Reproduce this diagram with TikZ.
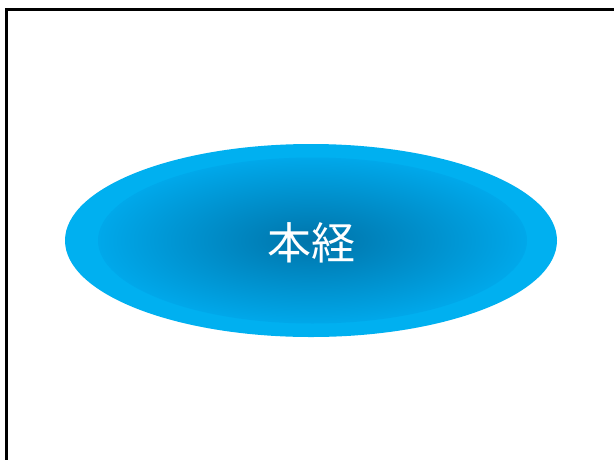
\documentclass[tikz,border=0pt]{standalone}
\usepackage{fontspec}
\newfontfamily\cjkfont{Noto Sans CJK JP}
\definecolor{ringblue}{RGB}{0,176,240}
\definecolor{coreblue}{RGB}{0,116,170}
\definecolor{edgeblue}{RGB}{0,168,234}
\tikzset{
  frameline/.style={line width=3pt, draw=black},
  outerell/.style={ellipse, fill=ringblue, draw=none, minimum width=492pt, minimum height=193pt, inner sep=0pt},
  innerell/.style={ellipse, draw=none, minimum width=429pt, minimum height=166pt, inner sep=0pt, shading=radial, inner color=coreblue, outer color=edgeblue},
  labeltext/.style={text=white, font=\cjkfont\fontsize{44}{52}\selectfont}
}
\usetikzlibrary{shapes.geometric}
\begin{document}
\begin{tikzpicture}[x=1pt,y=-1pt]
\useasboundingbox (0,0) rectangle (614,459);
\fill[white] (0,0) rectangle (614,459);
\coordinate (fb) at (6,460);
\coordinate (fc) at (6,9.5);
\coordinate (fr) at (615,9.5);
\draw[frameline] (fb) -- (fc) -- (fr);
\node[outerell] (outer) at (311,240.5) {};
\node[innerell] (inner) at (312.5,240.5) {};
\node[labeltext] (lbl) at (311.5,243) {本経};
\end{tikzpicture}
\end{document}
